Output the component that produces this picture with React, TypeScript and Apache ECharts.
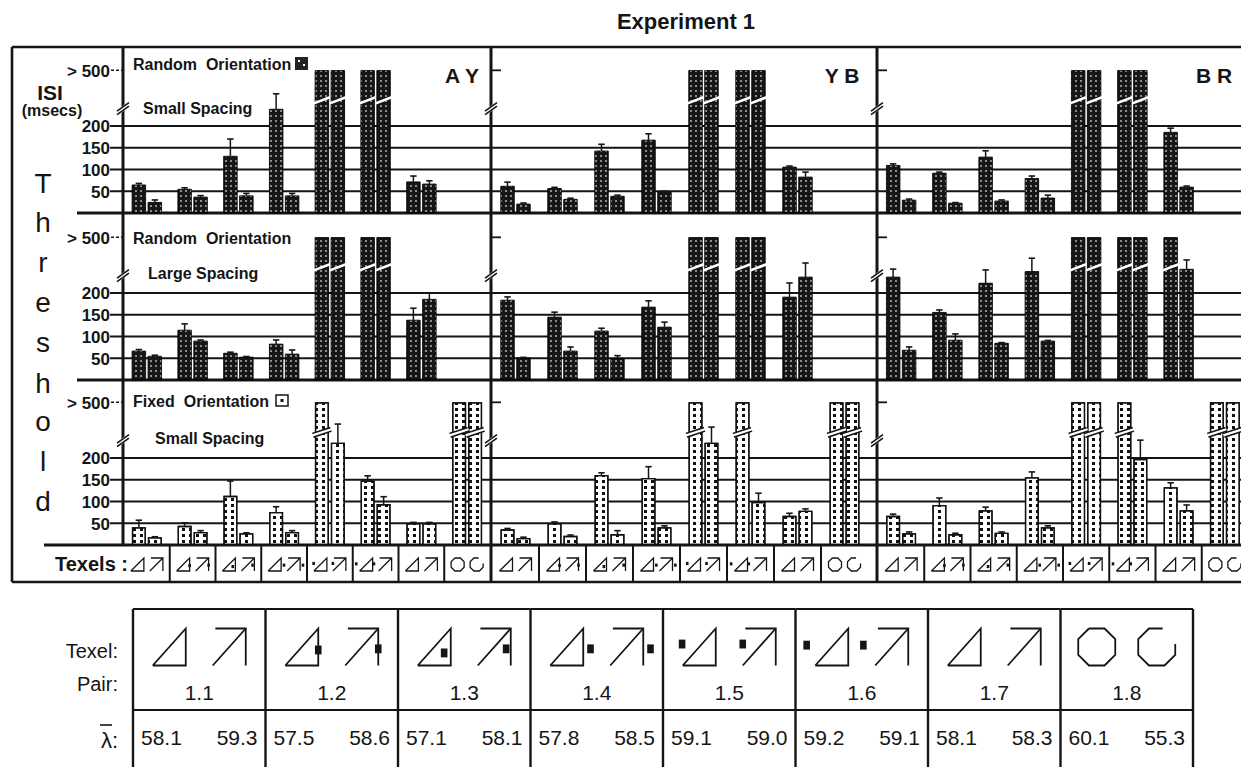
import React, { useEffect, useRef } from "react";
import * as echarts from "echarts";

// ---------------- data ----------------
const OVER = 500; // stands for "> 500"
const panelNames = ["A Y", "Y B", "B R"];
const pairLabels = ["1.1", "1.2", "1.3", "1.4", "1.5", "1.6", "1.7", "1.8"];
const tickValues = [50, 100, 150, 200, 500];
const tickLabels = ["50", "100", "150", "200", "> 500"];
const gridValues = [50, 100, 150, 200];
const rowTitles = ["Random\u00a0 Orientation", "Random\u00a0 Orientation", "Fixed\u00a0 Orientation"];
const rowSubtitles = ["Small Spacing", "Large Spacing", "Small Spacing"];
const lambdaFirst = [58.1, 57.5, 57.1, 57.8, 59.1, 59.2, 58.1, 60.1];
const lambdaSecond = [59.3, 58.6, 58.1, 58.5, 59.0, 59.1, 58.3, 55.3];

// Row 1: Random orientation, small spacing
const r1AYa = [65, 55, 131, 239, OVER, OVER, 72, null];
const r1AYaTop = [68, 58, 170, 274, null, null, 85, null];
const r1AYb = [25, 37, 40, 40, OVER, OVER, 67, null];
const r1AYbTop = [30, 40, 45, 45, null, null, 74, null];
const r1YBa = [62, 57, 143, 168, OVER, OVER, 106, null];
const r1YBaTop = [71, 59, 158, 182, null, null, 108, null];
const r1YBb = [21, 32, 39, 48, OVER, OVER, 83, null];
const r1YBbTop = [23, 34, 41, 50, null, null, 94, null];
const r1BRa = [110, 92, 129, 80, OVER, OVER, 186, null];
const r1BRaTop = [113, 94, 143, 85, null, null, 195, null];
const r1BRb = [30, 23, 28, 35, OVER, OVER, 60, null];
const r1BRbTop = [32, 24, 30, 41, null, null, 62, null];
// Row 2: Random orientation, large spacing
const r2AYa = [67, 115, 62, 83, OVER, OVER, 138, null];
const r2AYaTop = [70, 129, 64, 92, null, null, 165, null];
const r2AYb = [55, 90, 53, 60, OVER, OVER, 186, null];
const r2AYbTop = [57, 92, 54, 69, null, null, 200, null];
const r2YBa = [184, 145, 113, 168, OVER, OVER, 191, null];
const r2YBaTop = [191, 156, 119, 182, null, null, 223, null];
const r2YBb = [51, 67, 50, 122, OVER, OVER, 237, null];
const r2YBbTop = [52, 76, 56, 133, null, null, 269, null];
const r2BRa = [237, 156, 223, 250, OVER, OVER, OVER, null];
const r2BRaTop = [255, 161, 253, 280, null, null, null, null];
const r2BRb = [69, 92, 85, 90, OVER, OVER, 255, null];
const r2BRbTop = [76, 106, 86, 91, null, null, 276, null];
// Row 3: Fixed orientation, small spacing
const r3AYa = [41, 44, 113, 76, OVER, 148, 50, OVER];
const r3AYaTop = [57, 51, 147, 88, null, 159, 52, null];
const r3AYb = [18, 30, 27, 30, 235, 94, 50, OVER];
const r3AYbTop = [19, 33, 28, 33, 278, 111, 52, null];
const r3YBa = [36, 50, 161, 154, OVER, OVER, 67, OVER];
const r3YBaTop = [38, 53, 166, 180, null, null, 73, null];
const r3YBb = [16, 21, 25, 41, 235, 99, 79, OVER];
const r3YBbTop = [18, 23, 33, 44, 271, 119, 83, null];
const r3BRa = [67, 92, 80, 156, OVER, OVER, 133, OVER];
const r3BRaTop = [71, 108, 87, 168, null, null, 143, null];
const r3BRb = [27, 25, 28, 41, OVER, 198, 80, OVER];
const r3BRbTop = [30, 27, 30, 44, null, 241, 92, null];

const rowData = [
  [
    [r1AYa, r1AYaTop, r1AYb, r1AYbTop],
    [r1YBa, r1YBaTop, r1YBb, r1YBbTop],
    [r1BRa, r1BRaTop, r1BRb, r1BRbTop],
  ],
  [
    [r2AYa, r2AYaTop, r2AYb, r2AYbTop],
    [r2YBa, r2YBaTop, r2YBb, r2YBbTop],
    [r2BRa, r2BRaTop, r2BRb, r2BRbTop],
  ],
  [
    [r3AYa, r3AYaTop, r3AYb, r3AYbTop],
    [r3YBa, r3YBaTop, r3YBb, r3YBbTop],
    [r3BRa, r3BRaTop, r3BRb, r3BRbTop],
  ],
];

// ---------------- layout ----------------
const FONT = "'Liberation Sans', Arial, Helvetica, sans-serif";
const INK = "#151515";
const BASE = [213, 380, 545];
const ROW_H = 164;
const YMAX = 377;
const SHOW_OVER = 328; // axis position of the "> 500" level (broken axis)
const BREAK_AT = 240;
const STRIPE_LO = 252;
const STRIPE_HI = 266;
const AXIS_X = 123;
const PANEL_LEFT = [124, 492, 878];
const PANEL_W = [366, 376, 370];
const TEXEL_TOP = 545;
const TEXEL_H = 37;
const BAR_W = 14;
const BAR_OFF = 8;
const FRAME_TOP = 47;
const FRAME_BOTTOM = 582;
const FRAME_LEFT = 12;

const toAxis = (v: number | null) => (v == null ? null : v >= OVER ? SHOW_OVER : v);

const SQUARES: Record<string, number[][]> = {
  "1.2": [[1.0, 0.58], [1.0, 0.55]],
  "1.3": [[0.8, 0.66], [0.86, 0.55]],
  "1.4": [[1.22, 0.55], [1.22, 0.55]],
  "1.5": [[-0.02, 0.42], [0.0, 0.42]],
  "1.6": [[-0.26, 0.45], [-0.36, 0.45]],
};

function txt(text: string, x: number, y: number, font: string, align = "left", vAlign = "middle") {
  return {
    type: "text",
    x,
    y,
    silent: true,
    style: {
      text,
      font,
      fill: INK,
      align,
      verticalAlign: vAlign,
      textAlign: align,
      textVerticalAlign: vAlign,
    },
  };
}

function seg(x1: number, y1: number, x2: number, y2: number, lw: number, color = INK, dash?: number[]) {
  const style: any = { stroke: color, lineWidth: lw };
  if (dash) style.lineDash = dash;
  return { type: "line", silent: true, shape: { x1, y1, x2, y2 }, style };
}

function glyph(kind: string, which: number, cx: number, cy: number, w: number, h: number, lw: number) {
  const x0 = cx - w / 2;
  const y0 = cy - h / 2;
  const P = (u: number, v: number) => [x0 + u * w, y0 + v * h];
  const st = { stroke: INK, fill: "none", lineWidth: lw };
  const out: any[] = [];
  if (kind === "1.8") {
    const k = 0.29;
    const pts =
      which === 0
        ? [[k, 0], [1 - k, 0], [1, k], [1, 1 - k], [1 - k, 1], [k, 1], [0, 1 - k], [0, k], [k, 0]]
        : [[1, 0.42], [1, 1 - k], [1 - k, 1], [k, 1], [0, 1 - k], [0, k], [k, 0], [0.66, 0]];
    out.push({ type: "polyline", shape: { points: pts.map(([u, v]) => P(u, v)) }, style: st });
    return out;
  }
  if (which === 0) {
    out.push({ type: "polyline", shape: { points: [P(0, 1), P(1, 0), P(1, 1), P(0, 1)] }, style: st });
  } else {
    out.push({ type: "polyline", shape: { points: [P(0.08, 0), P(1, 0), P(1, 1)] }, style: st });
    out.push({ type: "polyline", shape: { points: [P(0, 1), P(1, 0)] }, style: st });
  }
  const sq = SQUARES[kind];
  if (sq) {
    const [u, v] = sq[which];
    const sw = Math.max(1.6, 0.2 * w);
    const sh = Math.max(1.8, 0.24 * h);
    const c = P(u, v);
    out.push({ type: "rect", shape: { x: c[0] - sw / 2, y: c[1] - sh / 2, width: sw, height: sh }, style: { fill: INK } });
  }
  return out;
}

const darkBar = {
  color: "#161616",
  borderColor: "#000",
  borderWidth: 0.6,
  decal: {
    symbol: "rect",
    symbolSize: 0.75,
    color: "rgba(255,255,255,0.9)",
    dashArrayX: [2, 3],
    dashArrayY: [2, 3],
    rotation: 0,
  },
};
const lightBar = {
  color: "#ffffff",
  borderColor: "#111",
  borderWidth: 1.3,
  decal: {
    symbol: "rect",
    symbolSize: 1,
    color: "#111",
    dashArrayX: [3, 4],
    dashArrayY: [3, 3],
    rotation: 0,
  },
};

function buildOption() {
  const grid: any[] = [];
  const xAxis: any[] = [];
  const yAxis: any[] = [];
  const series: any[] = [];
  const addGrid = (g: any, xa: any, ya: any) => {
    const i = grid.length;
    grid.push({ ...g, containLabel: false, outerBoundsMode: "none" });
    xAxis.push({ ...xa, gridIndex: i });
    yAxis.push({ ...ya, gridIndex: i });
    return i;
  };
  const valueY = { type: "value", min: 0, max: YMAX, show: false };

  for (let r = 0; r < 3; r++) {
    const top = BASE[r] - ROW_H;
    const gi = addGrid(
      { left: AXIS_X, top, width: 1261 - AXIS_X, height: ROW_H },
      { type: "value", min: 0, max: 1, show: false },
      valueY
    );
    const baseExt = r < 2 ? 77 : 44;
    // grid lines and baseline
    series.push({
      type: "custom",
      xAxisIndex: gi,
      yAxisIndex: gi,
      z: 1,
      silent: true,
      data: [0, ...gridValues].map((v) => [0, v]),
      renderItem: (params: any, api: any) => {
        const v = api.value(1);
        const cs = params.coordSys;
        const y = api.coord([0, v])[1];
        const x1 = v === 0 ? baseExt : cs.x - 13;
        return seg(x1, y, cs.x + cs.width, y, v === 0 ? 3 : 1.8);
      },
    });
    // tick labels
    series.push({
      type: "custom",
      xAxisIndex: gi,
      yAxisIndex: gi,
      z: 6,
      silent: true,
      data: tickValues.map((v, i) => [0, toAxis(v), i]),
      renderItem: (params: any, api: any) => {
        const cs = params.coordSys;
        const i = api.value(2);
        const y = api.coord([0, api.value(1)])[1];
        const children: any[] = [txt(tickLabels[i], cs.x - 13, y + 1, `bold 17px ${FONT}`, "right")];
        if (tickValues[i] >= OVER) children.push(seg(cs.x - 12, y, cs.x, y, 1.6, INK, [3, 2]));
        return { type: "group", children };
      },
    });

    for (let p = 0; p < 3; p++) {
      const pi = addGrid(
        { left: PANEL_LEFT[p], top, width: PANEL_W[p], height: ROW_H },
        { type: "category", data: pairLabels, show: false },
        valueY
      );
      const [a, aTop, b, bTop] = rowData[r][p];
      const light = r === 2;
      const style = light ? lightBar : darkBar;
      series.push({
        type: "bar",
        xAxisIndex: pi,
        yAxisIndex: pi,
        data: a.map(toAxis),
        barWidth: BAR_W,
        barGap: "14%",
        itemStyle: style,
        z: 2,
        silent: true,
      });
      series.push({
        type: "bar",
        xAxisIndex: pi,
        yAxisIndex: pi,
        data: b.map(toAxis),
        barWidth: BAR_W,
        barGap: "14%",
        itemStyle: style,
        z: 2,
        silent: true,
      });
      const marks: number[][] = [];
      [[a, aTop, -1], [b, bTop, 1]].forEach(([vals, tops, side]: any) => {
        vals.forEach((v: number | null, i: number) => {
          if (v == null) return;
          const over = v >= OVER;
          const t = tops[i];
          if (!over && (t == null || t <= v)) return;
          marks.push([i, toAxis(v) as number, over ? 0 : t, side, over ? 1 : 0]);
        });
      });
      series.push({
        type: "custom",
        xAxisIndex: pi,
        yAxisIndex: pi,
        z: 5,
        silent: true,
        data: marks,
        renderItem: (params: any, api: any) => {
          const idx = api.value(0);
          const v = api.value(1);
          const t = api.value(2);
          const side = api.value(3);
          const over = api.value(4);
          const xc = api.coord([idx, 0])[0] + side * BAR_OFF;
          if (over) {
            const yA = api.coord([idx, STRIPE_LO])[1];
            const yB = api.coord([idx, STRIPE_HI])[1];
            if (light) {
              return {
                type: "group",
                children: [seg(xc - 9, yA, xc + 9, yB, 5.4), seg(xc - 9.5, yA, xc + 9.5, yB, 2.2, "#fff")],
              };
            }
            return seg(xc - 8, yA, xc + 8, yB, 2.6, "#fff");
          }
          const yv = api.coord([idx, v])[1];
          const yt = api.coord([idx, t])[1];
          return {
            type: "group",
            children: [seg(xc, yv, xc, yt, 1.5), seg(xc - 3.2, yt, xc + 3.2, yt, 1.6)],
          };
        },
      });
      // axis break marks and "> 500" inner tick
      series.push({
        type: "custom",
        xAxisIndex: pi,
        yAxisIndex: pi,
        z: 6,
        silent: true,
        data: [[0, BREAK_AT]],
        renderItem: (params: any, api: any) => {
          const cs = params.coordSys;
          const x = cs.x - 1;
          const y = api.coord([0, BREAK_AT])[1];
          const children: any[] = [
            seg(x - 6, y + 4.5, x + 6, y - 4.5, 4.5, "#fff"),
            seg(x - 6, y + 2.5, x + 6, y - 6, 1.6),
            seg(x - 6, y + 6, x + 6, y - 2.5, 1.6),
          ];
          if (p > 0) {
            const yo = api.coord([0, SHOW_OVER])[1];
            children.push(seg(x, yo, x + 10, yo, 1.8));
          }
          return { type: "group", children };
        },
      });
    }
  }

  // Texel row under the bars
  for (let p = 0; p < 3; p++) {
    const ti = addGrid(
      { left: PANEL_LEFT[p], top: TEXEL_TOP, width: PANEL_W[p], height: TEXEL_H },
      { type: "category", data: pairLabels, show: false },
      { type: "value", min: 0, max: 1, show: false }
    );
    series.push({
      type: "custom",
      xAxisIndex: ti,
      yAxisIndex: ti,
      z: 5,
      silent: true,
      data: pairLabels.map((_, i) => [i, 0.5]),
      renderItem: (params: any, api: any) => {
        const cs = params.coordSys;
        const i = api.value(0);
        const band = api.size([1, 0])[0];
        const xc = api.coord([i, 0.5])[0];
        const cy = api.coord([i, 0.5])[1] + 1;
        const children: any[] = [];
        if (i > 0) children.push(seg(xc - band / 2, cs.y, xc - band / 2, cs.y + cs.height, 2));
        const kind = pairLabels[i];
        children.push(...glyph(kind, 0, xc - 9.5, cy, 13, 13, 1.3));
        children.push(...glyph(kind, 1, xc + 9.5, cy, 13, 13, 1.3));
        return { type: "group", children };
      },
    });
  }

  // Bottom table
  const tb = addGrid(
    { left: 133, top: 609, width: 1060, height: 170 },
    { type: "category", data: pairLabels, show: false },
    { type: "value", min: 0, max: 1, show: false }
  );
  series.push({
    type: "custom",
    xAxisIndex: tb,
    yAxisIndex: tb,
    z: 5,
    silent: true,
    data: pairLabels.map((_, i) => [i, 0]),
    renderItem: (params: any, api: any) => {
      const cs = params.coordSys;
      const i = api.value(0);
      const band = api.size([1, 0])[0];
      const xc = api.coord([i, 0])[0];
      const x0 = xc - band / 2;
      const x1 = xc + band / 2;
      const yTop = cs.y;
      const yMid = cs.y + 101;
      const yBot = cs.y + cs.height;
      const ch: any[] = [seg(x0, yTop, x1, yTop, 2.2), seg(x0, yMid, x1, yMid, 2.2), seg(x0, yTop, x0, yBot, 2.4)];
      if (i === pairLabels.length - 1) ch.push(seg(x1, yTop, x1, yBot, 2.4));
      const kind = pairLabels[i];
      const gw = kind === "1.8" ? 37 : 33;
      ch.push(...glyph(kind, 0, xc - 30, yTop + 38, gw, 37, 1.8));
      ch.push(...glyph(kind, 1, xc + 30, yTop + 38, gw, 37, 1.8));
      ch.push(txt(pairLabels[i], xc, yTop + 83, `21px ${FONT}`, "center"));
      ch.push(txt(lambdaFirst[i].toFixed(1), x0 + 8, yTop + 128, `21px ${FONT}`, "left"));
      ch.push(txt(lambdaSecond[i].toFixed(1), x1 - 8, yTop + 128, `21px ${FONT}`, "right"));
      return { type: "group", children: ch };
    },
  });

  // ---------------- decorations ----------------
  const g: any[] = [];
  g.push(txt("Experiment 1", 686, 21, `bold 22px ${FONT}`, "center"));
  // frame
  g.push(seg(FRAME_LEFT, FRAME_TOP, 1241, FRAME_TOP, 2.6));
  g.push(seg(FRAME_LEFT, FRAME_TOP, FRAME_LEFT, FRAME_BOTTOM, 2.6));
  g.push(seg(FRAME_LEFT, FRAME_BOTTOM, 1241, FRAME_BOTTOM, 2.6));
  // panel dividers
  g.push(seg(PANEL_LEFT[0] - 1, FRAME_TOP, PANEL_LEFT[0] - 1, TEXEL_TOP, 3));
  g.push(seg(PANEL_LEFT[1] - 1, FRAME_TOP, PANEL_LEFT[1] - 1, FRAME_BOTTOM, 3));
  g.push(seg(PANEL_LEFT[2] - 1, FRAME_TOP, PANEL_LEFT[2] - 1, FRAME_BOTTOM, 3));
  // axis title
  g.push(txt("ISI", 50, 92, `bold 21px ${FONT}`, "center"));
  g.push(txt("(msecs)", 52, 110, `bold 16px ${FONT}`, "center"));
  const letters = "Threshold".split("");
  const letterY = [183, 222, 262, 302, 342, 383, 421, 461, 501];
  letters.forEach((ch, i) => g.push(txt(ch, 43, letterY[i], `28px ${FONT}`, "center")));
  // row labels
  const titleY = [64, 238, 401];
  const subY = [108, 273, 438];
  const subX = [143, 148, 155];
  for (let r = 0; r < 3; r++) {
    g.push(txt(rowTitles[r], 133, titleY[r], `bold 16px ${FONT}`, "left"));
    g.push(txt(rowSubtitles[r], subX[r], subY[r], `bold 16px ${FONT}`, "left"));
  }
  // legend icons
  g.push({ type: "rect", silent: true, shape: { x: 295, y: 57, width: 13, height: 13 }, style: { fill: "#222" } });
  g.push({ type: "rect", silent: true, shape: { x: 298, y: 60, width: 2, height: 2 }, style: { fill: "#fff" } });
  g.push({ type: "rect", silent: true, shape: { x: 303, y: 64, width: 2, height: 2 }, style: { fill: "#fff" } });
  g.push({ type: "rect", silent: true, shape: { x: 276, y: 395, width: 12, height: 11 }, style: { fill: "#fff", stroke: INK, lineWidth: 1.5 } });
  g.push({ type: "rect", silent: true, shape: { x: 280.5, y: 399, width: 3, height: 3 }, style: { fill: INK } });
  // panel names
  const nameX = [462, 842, 1214];
  panelNames.forEach((n, i) => g.push(txt(n, nameX[i], 75, `bold 21px ${FONT}`, "center")));
  // texel row label
  g.push(txt("Texels :", 128, 564, `bold 20px ${FONT}`, "right"));
  // table labels
  g.push(txt("Texel:", 118, 651, `20px ${FONT}`, "right"));
  g.push(txt("Pair:", 118, 684, `20px ${FONT}`, "right"));
  g.push(txt("\u03bb:", 118, 740, `22px ${FONT}`, "right"));
  g.push(seg(100, 725, 112, 725, 1.6));

  return {
    animation: false,
    backgroundColor: "#ffffff",
    grid,
    xAxis,
    yAxis,
    series,
    graphic: { elements: g },
  };
}

export default function App() {
  const ref = useRef<HTMLDivElement>(null);
  useEffect(() => {
    if (!ref.current) return;
    const chart = echarts.init(ref.current, null, { renderer: "svg" });
    chart.setOption(buildOption() as any);
    return () => chart.dispose();
  }, []);
  return (
    <div
      ref={ref}
      style={{ position: "absolute", left: 0, top: 0, width: 1241, height: 767, background: "#fff" }}
    />
  );
}
